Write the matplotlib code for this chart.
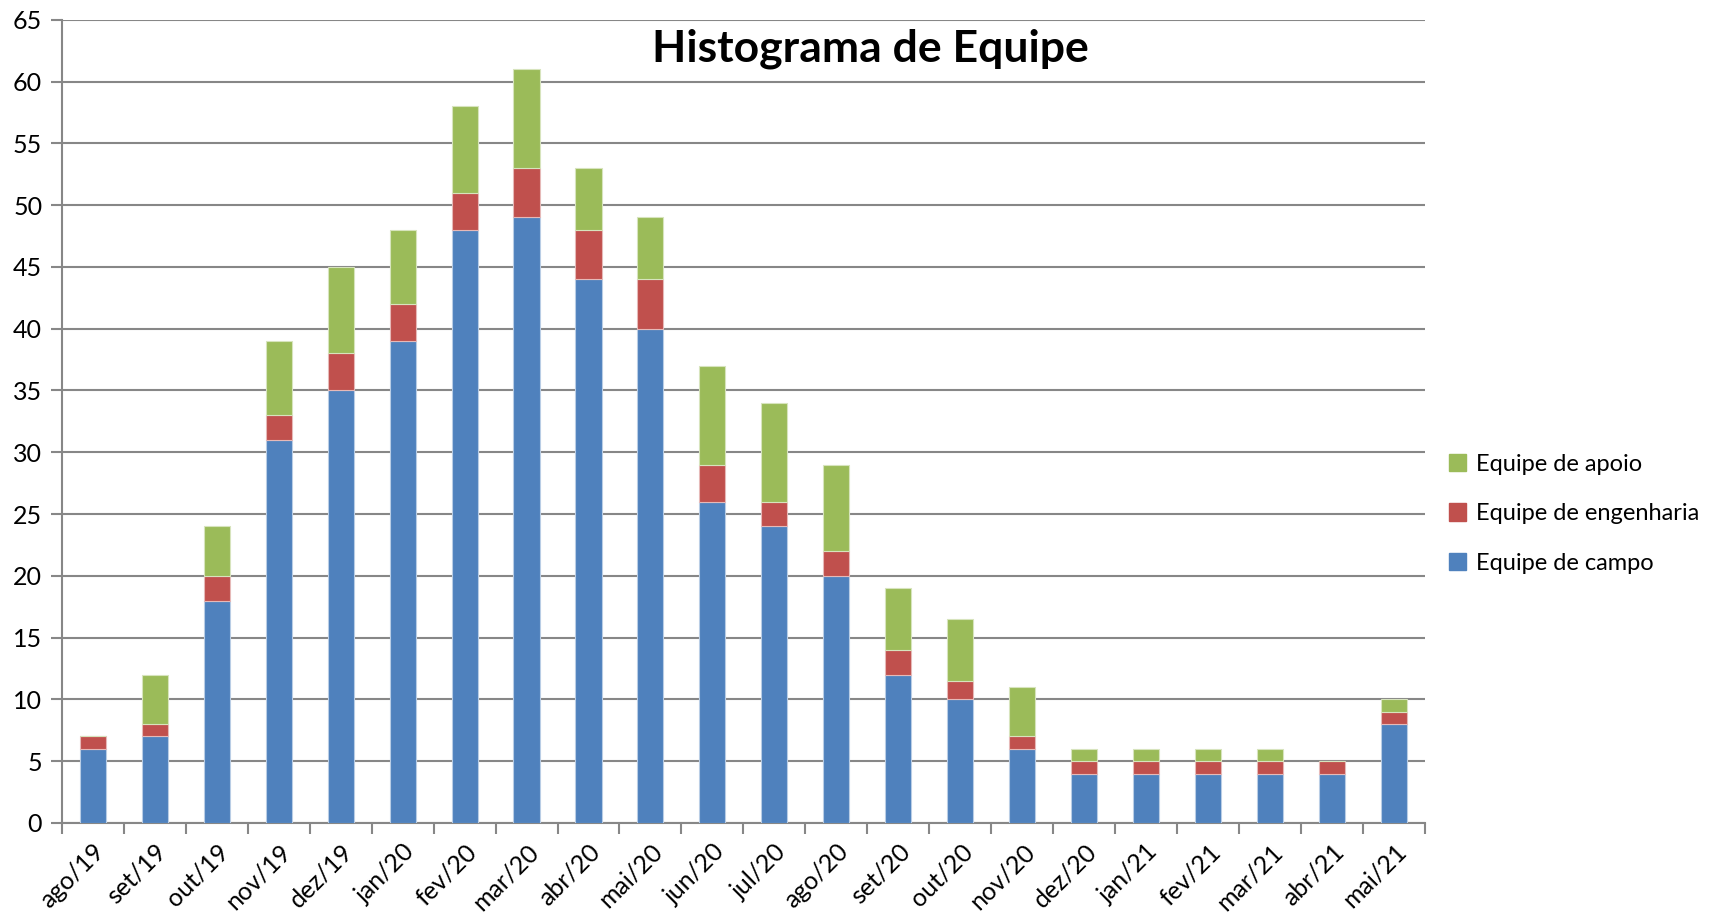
import numpy as np
import matplotlib.pyplot as plt
from matplotlib.patches import Patch

# months on the x axis
meses = ["ago/19", "set/19", "out/19", "nov/19", "dez/19", "jan/20", "fev/20",
         "mar/20", "abr/20", "mai/20", "jun/20", "jul/20", "ago/20", "set/20",
         "out/20", "nov/20", "dez/20", "jan/21", "fev/21", "mar/21", "abr/21",
         "mai/21"]

# stacked series (bottom to top)
campo = [6, 7, 18, 31, 35, 39, 48, 49, 44, 40, 26, 24, 20, 12, 10, 6, 4, 4, 4, 4, 4, 8]
engenharia = [1, 1, 2, 2, 3, 3, 3, 4, 4, 4, 3, 2, 2, 2, 1.5, 1, 1, 1, 1, 1, 1, 1]
apoio = [0, 4, 4, 6, 7, 6, 7, 8, 5, 5, 8, 8, 7, 5, 5, 4, 1, 1, 1, 1, 0, 1]

c_campo = "#4F81BD"
c_eng = "#C0504D"
c_apoio = "#9BBB59"
grid_c = "#878787"

plt.rcParams['font.family'] = ['Lato', 'DejaVu Sans']

fig = plt.figure(figsize=(17.13, 9.19), dpi=100)
ax = fig.add_axes([0.036, 0.1045, 0.796, 0.874])

x = np.arange(len(meses))
w = 0.42
campo = np.array(campo, dtype=float)
engenharia = np.array(engenharia, dtype=float)
apoio = np.array(apoio, dtype=float)

ax.bar(x, campo, w, color=c_campo, edgecolor="#B9CDE5", linewidth=0.8, zorder=3)
ax.bar(x, engenharia, w, bottom=campo, color=c_eng, edgecolor="#E6B9B8", linewidth=0.8, zorder=3)
ax.bar(x, apoio, w, bottom=campo + engenharia, color=c_apoio, edgecolor="#D7E4BD", linewidth=0.8, zorder=3)

ax.set_xlim(-0.5, len(meses) - 0.5)
ax.set_ylim(0, 65)
ax.set_yticks(np.arange(0, 66, 5))
ax.yaxis.grid(True, color=grid_c, linewidth=1.5, zorder=0)
ax.set_axisbelow(True)

# ticks between categories
ax.set_xticks(np.arange(-0.5, len(meses), 1.0))
ax.set_xticklabels([])
ax.set_xticks(x, minor=True)
ax.set_xticklabels(meses, minor=True, rotation=45, ha='right', rotation_mode='anchor', fontsize=18)
ax.tick_params(axis='x', which='major', length=8, width=1.5, color=grid_c, direction='out')
ax.tick_params(axis='x', which='minor', length=0, pad=12)
ax.tick_params(axis='y', length=8, width=1.5, color=grid_c, labelsize=18, pad=6)

for s in ['top', 'right']:
    ax.spines[s].set_visible(False)
for s in ['left', 'bottom']:
    ax.spines[s].set_color(grid_c)
    ax.spines[s].set_linewidth(1.5)

fig.text(0.508, 0.947, "Histograma de Equipe", ha='center', va='center',
         fontsize=32, fontweight='bold')

handles = [Patch(color=c_apoio), Patch(color=c_eng), Patch(color=c_campo)]
labels = ["Equipe de apoio", "Equipe de engenharia", "Equipe de campo"]
fig.legend(handles, labels, loc='center left', bbox_to_anchor=(0.836, 0.441),
           frameon=False, fontsize=17, handlelength=0.75, handleheight=0.75,
           handletextpad=0.4, labelspacing=1.2, borderpad=0.2)

fig.savefig("out.png", dpi=100)
